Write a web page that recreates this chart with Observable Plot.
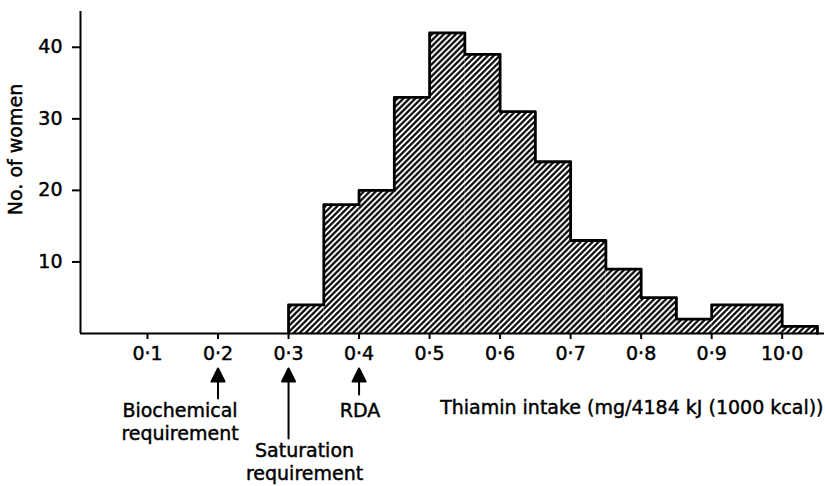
<!DOCTYPE html>
<html>
<head>
<meta charset="utf-8">
<script src="https://cdn.jsdelivr.net/npm/d3@7"></script>
<script src="https://cdn.jsdelivr.net/npm/@observablehq/plot@0.6"></script>
<style>
  html, body { margin: 0; padding: 0; background: #fff; }
  svg { display: block; }
  svg text { stroke: black; stroke-width: 0.45px; }
</style>
</head>
<body>
<div id="chart"></div>
<script>
// ---- Data ----
const binStarts = [0.30, 0.35, 0.40, 0.45, 0.50, 0.55, 0.60, 0.65, 0.70, 0.75, 0.80, 0.85, 0.90, 0.95, 1.00];
const binWidth = 0.05;
const counts = [4, 18, 20, 33, 42, 39, 31, 24, 13, 9, 5, 2, 4, 4, 1];

const xTicks = [0.1, 0.2, 0.3, 0.4, 0.5, 0.6, 0.7, 0.8, 0.9, 1.0];
const xTickLabels = ["0·1", "0·2", "0·3", "0·4", "0·5", "0·6", "0·7", "0·8", "0·9", "10·0"];
const yTicks = [10, 20, 30, 40];

const markerX = [0.2, 0.3, 0.4];
const markerLabels = ["Biochemical\nrequirement", "Saturation\nrequirement", "RDA"];

const yLabel = "No. of women";
const xLabel = "Thiamin intake (mg/4184 kJ (1000 kcal))";

// ---- Derived tables ----
const bins = binStarts.map((x0, i) => ({x1: x0, x2: +(x0 + binWidth).toFixed(2), count: counts[i]}));
const last = bins[bins.length - 1];
const outline = [
  {x: bins[0].x1, y: 0},
  ...bins.map(b => ({x: b.x1, y: b.count})),
  {x: last.x2, y: last.count},
  {x: last.x2, y: 0}
];
const markers = markerX.map((x, i) => ({x, label: markerLabels[i]}));
const tickLabelOf = new Map(xTicks.map((t, i) => [t, xTickLabels[i]]));

// ---- Styling (layout only) ----
const xDomain = [0.005, 1.06];
const arrowLen = [30, 70, 26];
const labelOffsets = [{dx: -38, dy: 67}, {dx: 16, dy: 107}, {dx: 1, dy: 67}];

const arrowShape = {
  draw(ctx, l) {
    const h = 13, w = 6.5;
    ctx.moveTo(0, 0);
    ctx.lineTo(0, -l + h);
    ctx.moveTo(0, -l);
    ctx.lineTo(-w, -l + h);
    ctx.lineTo(w, -l + h);
    ctx.closePath();
  }
};

const defsMark = () => {
  const ns = "http://www.w3.org/2000/svg";
  const defs = document.createElementNS(ns, "defs");
  defs.innerHTML =
    '<pattern id="hatch" patternUnits="userSpaceOnUse" width="4.2" height="4.2" patternTransform="rotate(45)">' +
    '<rect width="4.2" height="4.2" fill="white"/>' +
    '<line x1="2.1" y1="-1" x2="2.1" y2="5.2" stroke="black" stroke-width="2.2"/>' +
    '</pattern>';
  return defs;
};

const chart = Plot.plot({
  width: 825,
  height: 486,
  marginLeft: 80,
  marginRight: 1,
  marginTop: 11,
  marginBottom: 153,
  style: {fontFamily: "DejaVu Sans", fontSize: "19px", color: "black", background: "white"},
  x: {domain: xDomain},
  y: {domain: [0, 45]},
  length: {type: "identity"},
  marks: [
    defsMark,
    Plot.rectY(bins, {x1: "x1", x2: "x2", y: "count", fill: "url(#hatch)"}),
    Plot.line(outline, {x: "x", y: "y", curve: "step-after", stroke: "black", strokeWidth: 2.8}),
    Plot.ruleY([0], {stroke: "black", strokeWidth: 2}),
    Plot.ruleX([xDomain[0]], {stroke: "black", strokeWidth: 2}),
    Plot.axisX(xTicks, {
      tickFormat: d => tickLabelOf.get(d),
      tickSize: 6, tickPadding: 7, strokeWidth: 2, label: null, fontSize: 19
    }),
    Plot.axisY(yTicks, {
      tickSize: 8, tickPadding: 10, strokeWidth: 2, label: null, fontSize: 19
    }),
    Plot.text([yLabel], {frameAnchor: "left", textAnchor: "middle", rotate: -90, dx: -65, dy: -23, fontSize: 19}),
    Plot.text([xLabel], {frameAnchor: "bottom-right", textAnchor: "end", lineAnchor: "top", dx: -1, dy: 67, fontSize: 19}),
    Plot.vector(markers, {
      x: "x", y: () => 0, length: (d, i) => arrowLen[i], rotate: 0, anchor: "end",
      shape: arrowShape, stroke: "black", fill: "black", strokeWidth: 2, dy: 35
    }),
    ...markers.map((m, i) => Plot.text([m], {
      x: "x", y: () => 0, text: "label", lineAnchor: "top", lineHeight: 1.21,
      dx: labelOffsets[i].dx, dy: labelOffsets[i].dy, fontSize: 19
    }))
  ]
});

document.getElementById("chart").appendChild(chart);
</script>
</body>
</html>
